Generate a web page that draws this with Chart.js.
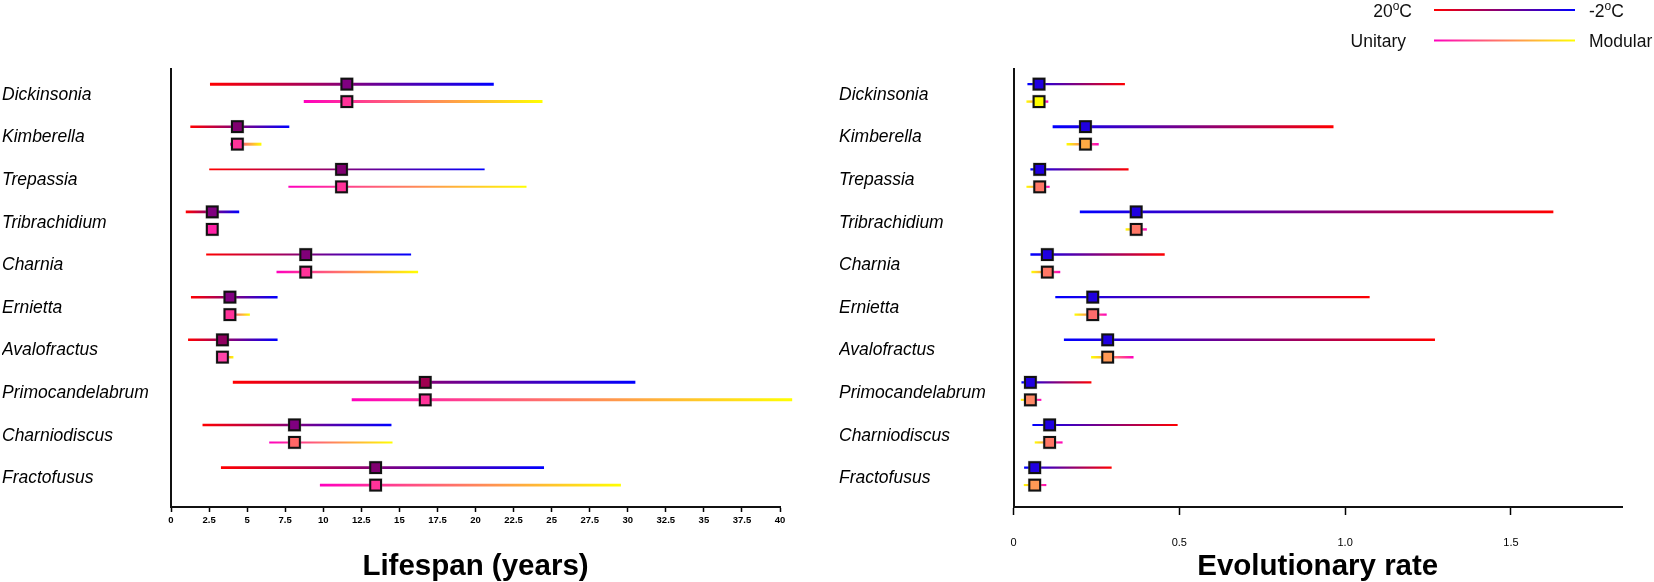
<!DOCTYPE html>
<html>
<head>
<meta charset="utf-8">
<script src="https://cdn.jsdelivr.net/npm/chart.js@4.4.1/dist/chart.umd.min.js"></script>
<style>
  body { margin: 0; background: #fff; }
  #left { position: absolute; left: 0; top: 0; width: 830px; height: 582px; }
  #right { position: absolute; left: 830px; top: 0; width: 824px; height: 582px; }
</style>
</head>
<body>
<div id="left"><canvas id="lifeCanv"></canvas></div>
<div id="right"><canvas id="rateCanv"></canvas></div>
<script>
/* data */
const species = ['Dickinsonia', 'Kimberella', 'Trepassia', 'Tribrachidium', 'Charnia',
  'Ernietta', 'Avalofractus', 'Primocandelabrum', 'Charniodiscus', 'Fractofusus']

// lifespan (years)
const lifeMid = [11.55, 4.36, 11.2, 2.71, 8.85, 3.87, 3.38, 16.7, 8.11, 13.44]
const lifeTempLo = [2.56, 1.27, 2.51, 0.97, 2.31, 1.31, 1.12, 4.06, 2.07, 3.28]
const lifeTempHi = [21.2, 7.77, 20.6, 4.48, 15.77, 7.0, 7.0, 30.5, 14.48, 24.5]
const lifeUnitLo = [8.72, 3.88, 7.71, 2.71, 6.93, 3.54, 3.05, 11.87, 6.45, 9.78]
const lifeUnitHi = [24.4, 5.94, 23.35, 2.71, 16.23, 5.18, 4.1, 40.8, 14.55, 29.55]
const lifeTicks = [0, 2.5, 5, 7.5, 10, 12.5, 15, 17.5, 20, 22.5, 25, 27.5, 30, 32.5, 35, 37.5, 40]

// evolutionary rate
const rateMid = [0.077, 0.217, 0.079, 0.37, 0.102, 0.239, 0.284, 0.051, 0.109, 0.064]
const rateTempLo = [0.042, 0.118, 0.051, 0.2, 0.051, 0.126, 0.152, 0.024, 0.057, 0.032]
const rateTempHi = [0.336, 0.965, 0.347, 1.628, 0.456, 1.074, 1.271, 0.235, 0.495, 0.296]
const rateUnitLo = [0.039, 0.16, 0.039, 0.338, 0.054, 0.184, 0.234, 0.022, 0.064, 0.031]
const rateUnitHi = [0.105, 0.257, 0.109, 0.402, 0.141, 0.281, 0.362, 0.084, 0.148, 0.099]
const rateTicks = [0, 0.5, 1.0, 1.5]

/* styles */
const RED = '#ff0000', BLUE = '#0000ff', MAGENTA = '#ff00be', YELLOW = '#ffff00'
const lifeTempColors = ['#800080', '#800070', '#800070', '#800080', '#800078',
  '#800080', '#900060', '#a00050', '#800080', '#800070']
const lifeUnitColors = ['#ff3399', '#ff3399', '#ff3399', '#ff22a6', '#ff3399',
  '#ff3399', '#ff44aa', '#ff3399', '#ff6666', '#ff3399']
const rateTempColors = Array(10).fill('#2000e0')
const rateUnitColors = ['#ffff00', '#ffaa44', '#ff7766', '#ff7766', '#ff7766',
  '#ff6b6b', '#ff9955', '#ff8866', '#ff7766', '#ff9955']
const lifeTempWidth = [3, 2.7, 1.9, 2.7, 1.9, 2.5, 2.5, 3, 2.5, 2.7]
const lifeUnitWidth = [3, 3, 1.9, 0, 2.3, 2.3, 2.5, 3, 2.1, 2.7]
const rateTempWidth = [2.2, 3, 2.1, 2.8, 2.4, 2.1, 2.4, 2.4, 1.9, 2.4]
const rateUnitWidth = [2.4, 2.4, 2.1, 2.4, 2.4, 2.1, 2.4, 2.1, 2.2, 2.1]

const FONT = "'Liberation Sans', Arial, Helvetica, sans-serif"
const ROW_OFF = 0.205   // temp row sits above, unitary row below the label

function grad(chart, lo, hi, c0, c1) {
  if (!chart.chartArea) return c0
  const xs = chart.scales.x
  const p0 = xs.getPixelForValue(lo), p1 = xs.getPixelForValue(hi)
  if (p1 - p0 < 1) return c0
  const g = chart.ctx.createLinearGradient(p0, 0, p1, 0)
  g.addColorStop(0, c0)
  g.addColorStop(1, c1)
  return g
}

function rangeSets(lo, hi, widths, off, c0, c1) {
  return species.map((s, i) => ({
    type: 'line',
    data: [{x: lo[i], y: i + off}, {x: hi[i], y: i + off}],
    borderColor: ctx => grad(ctx.chart, lo[i], hi[i], c0, c1),
    borderWidth: widths[i],
    pointRadius: 0,
    clip: false,
    order: 3
  }))
}

function markerSets(mid, tempColors, unitColors) {
  const pts = []
  mid.forEach((v, i) => {
    pts.push({x: v, y: i - ROW_OFF})
    pts.push({x: v, y: i + ROW_OFF})
  })
  const fills = []
  mid.forEach((v, i) => { fills.push(tempColors[i]); fills.push(unitColors[i]) })
  return [{
    type: 'scatter', data: pts, pointStyle: 'rect', pointRadius: 7.6,
    backgroundColor: fills, borderColor: '#111', borderWidth: 2, order: 1
  }, {
    type: 'scatter', data: pts, pointStyle: 'rect', pointRadius: 9.6,
    backgroundColor: 'rgba(110,110,110,0.45)', borderWidth: 0, order: 2
  }]
}

function panel(canvasId, p) {
  return new Chart(document.getElementById(canvasId), {
    type: 'scatter',
    data: {
      datasets: [
        ...markerSets(p.mid, p.tempColors, p.unitColors),
        ...rangeSets(p.tempLo, p.tempHi, p.tempWidth, -ROW_OFF, p.tempC0, p.tempC1),
        ...rangeSets(p.unitLo, p.unitHi, p.unitWidth, ROW_OFF, p.unitC0, p.unitC1)
      ]
    },
    options: {
      responsive: true,
      maintainAspectRatio: false,
      animation: false,
      events: [],
      layout: { padding: p.padding },
      plugins: { legend: { display: false }, tooltip: { enabled: false } },
      scales: {
        x: {
          type: 'linear', min: 0, max: p.xMax,
          afterBuildTicks: sc => { sc.ticks = p.ticks.map(v => ({value: v})) },
          afterFit: sc => { sc.height = 75 },
          ticks: {
            autoSkip: false, maxRotation: 0, color: '#000', padding: p.tickPad,
            font: { family: FONT, size: p.tickSize, weight: p.tickWeight },
            callback: p.tickFmt
          },
          grid: { display: true, drawOnChartArea: false, tickLength: p.tickLen,
            tickColor: '#000', tickWidth: 1.5 },
          border: { display: true, color: '#111', width: 2 },
          title: { display: true, text: p.title, color: '#000', padding: 0,
            font: { family: FONT, size: 29.5, weight: 'bold', lineHeight: 1 } }
        },
        y: {
          type: 'linear', min: -0.56, max: 9.72, reverse: true,
          afterBuildTicks: sc => { sc.ticks = species.map((s, i) => ({value: i})) },
          afterFit: sc => { sc.width = p.yWidth },
          ticks: {
            autoSkip: false, crossAlign: 'far', color: '#000', padding: 0, labelOffset: 2,
            font: { family: FONT, size: 17.5, style: 'italic' },
            callback: v => species[v]
          },
          grid: { display: false },
          border: { display: true, color: '#111', width: 2 }
        }
      }
    },
    plugins: p.plugins || []
  })
}

/* top-right key */
const keyPlugin = {
  id: 'key',
  afterDraw(chart) {
    const ctx = chart.ctx
    const rows = [
      { y: 10, base: 16.5, left: ['20', 'o', 'C'], right: ['-2', 'o', 'C'], c0: RED, c1: BLUE, lx: 582 },
      { y: 40.5, base: 46.5, left: ['Unitary'], right: ['Modular'], c0: MAGENTA, c1: YELLOW, lx: 576 }
    ]
    const x0 = 604, x1 = 745, rx = 759
    ctx.save()
    ctx.fillStyle = '#111'
    ctx.textBaseline = 'alphabetic'
    ctx.textAlign = 'left'
    const fontOf = (parts, k) => ((parts.length === 3 && k === 1) ? '12px ' : '17.5px ') + FONT
    const drawParts = (parts, x, base) => {
      parts.forEach((t, k) => {
        ctx.font = fontOf(parts, k)
        ctx.fillText(t, x, (parts.length === 3 && k === 1) ? base - 7 : base)
        x += ctx.measureText(t).width
      })
    }
    const widthOf = parts => parts.reduce((w, t, k) => {
      ctx.font = fontOf(parts, k)
      return w + ctx.measureText(t).width
    }, 0)
    rows.forEach(r => {
      drawParts(r.left, r.lx - widthOf(r.left), r.base)
      drawParts(r.right, rx, r.base)
      const g = ctx.createLinearGradient(x0, 0, x1, 0)
      g.addColorStop(0, r.c0)
      g.addColorStop(1, r.c1)
      ctx.strokeStyle = g
      ctx.lineWidth = 2
      ctx.beginPath()
      ctx.moveTo(x0, r.y)
      ctx.lineTo(x1, r.y)
      ctx.stroke()
    })
    ctx.restore()
  }
}

document.addEventListener('DOMContentLoaded', function() {
  panel('lifeCanv', {
    mid: lifeMid, tempLo: lifeTempLo, tempHi: lifeTempHi, unitLo: lifeUnitLo, unitHi: lifeUnitHi,
    tempColors: lifeTempColors, unitColors: lifeUnitColors,
    tempWidth: lifeTempWidth, unitWidth: lifeUnitWidth,
    tempC0: RED, tempC1: BLUE, unitC0: MAGENTA, unitC1: YELLOW,
    xMax: 40, ticks: lifeTicks, tickFmt: v => String(v),
    tickSize: 9.5, tickWeight: 'bold', tickPad: 3, tickLen: 5,
    title: 'Lifespan (years)', yWidth: 169,
    padding: { left: 2, top: 69, right: 50, bottom: 0 }
  })
  panel('rateCanv', {
    mid: rateMid, tempLo: rateTempLo, tempHi: rateTempHi, unitLo: rateUnitLo, unitHi: rateUnitHi,
    tempColors: rateTempColors, unitColors: rateUnitColors,
    tempWidth: rateTempWidth, unitWidth: rateUnitWidth,
    tempC0: BLUE, tempC1: RED, unitC0: YELLOW, unitC1: MAGENTA,
    xMax: 1.835, ticks: rateTicks, tickFmt: v => v === 0 ? '0' : v.toFixed(1),
    tickSize: 11, tickWeight: 'normal', tickPad: 21, tickLen: 8,
    title: 'Evolutionary rate', yWidth: 174.5,
    padding: { left: 9, top: 69, right: 32, bottom: 0 },
    plugins: [keyPlugin]
  })
})
</script>
</body>
</html>
